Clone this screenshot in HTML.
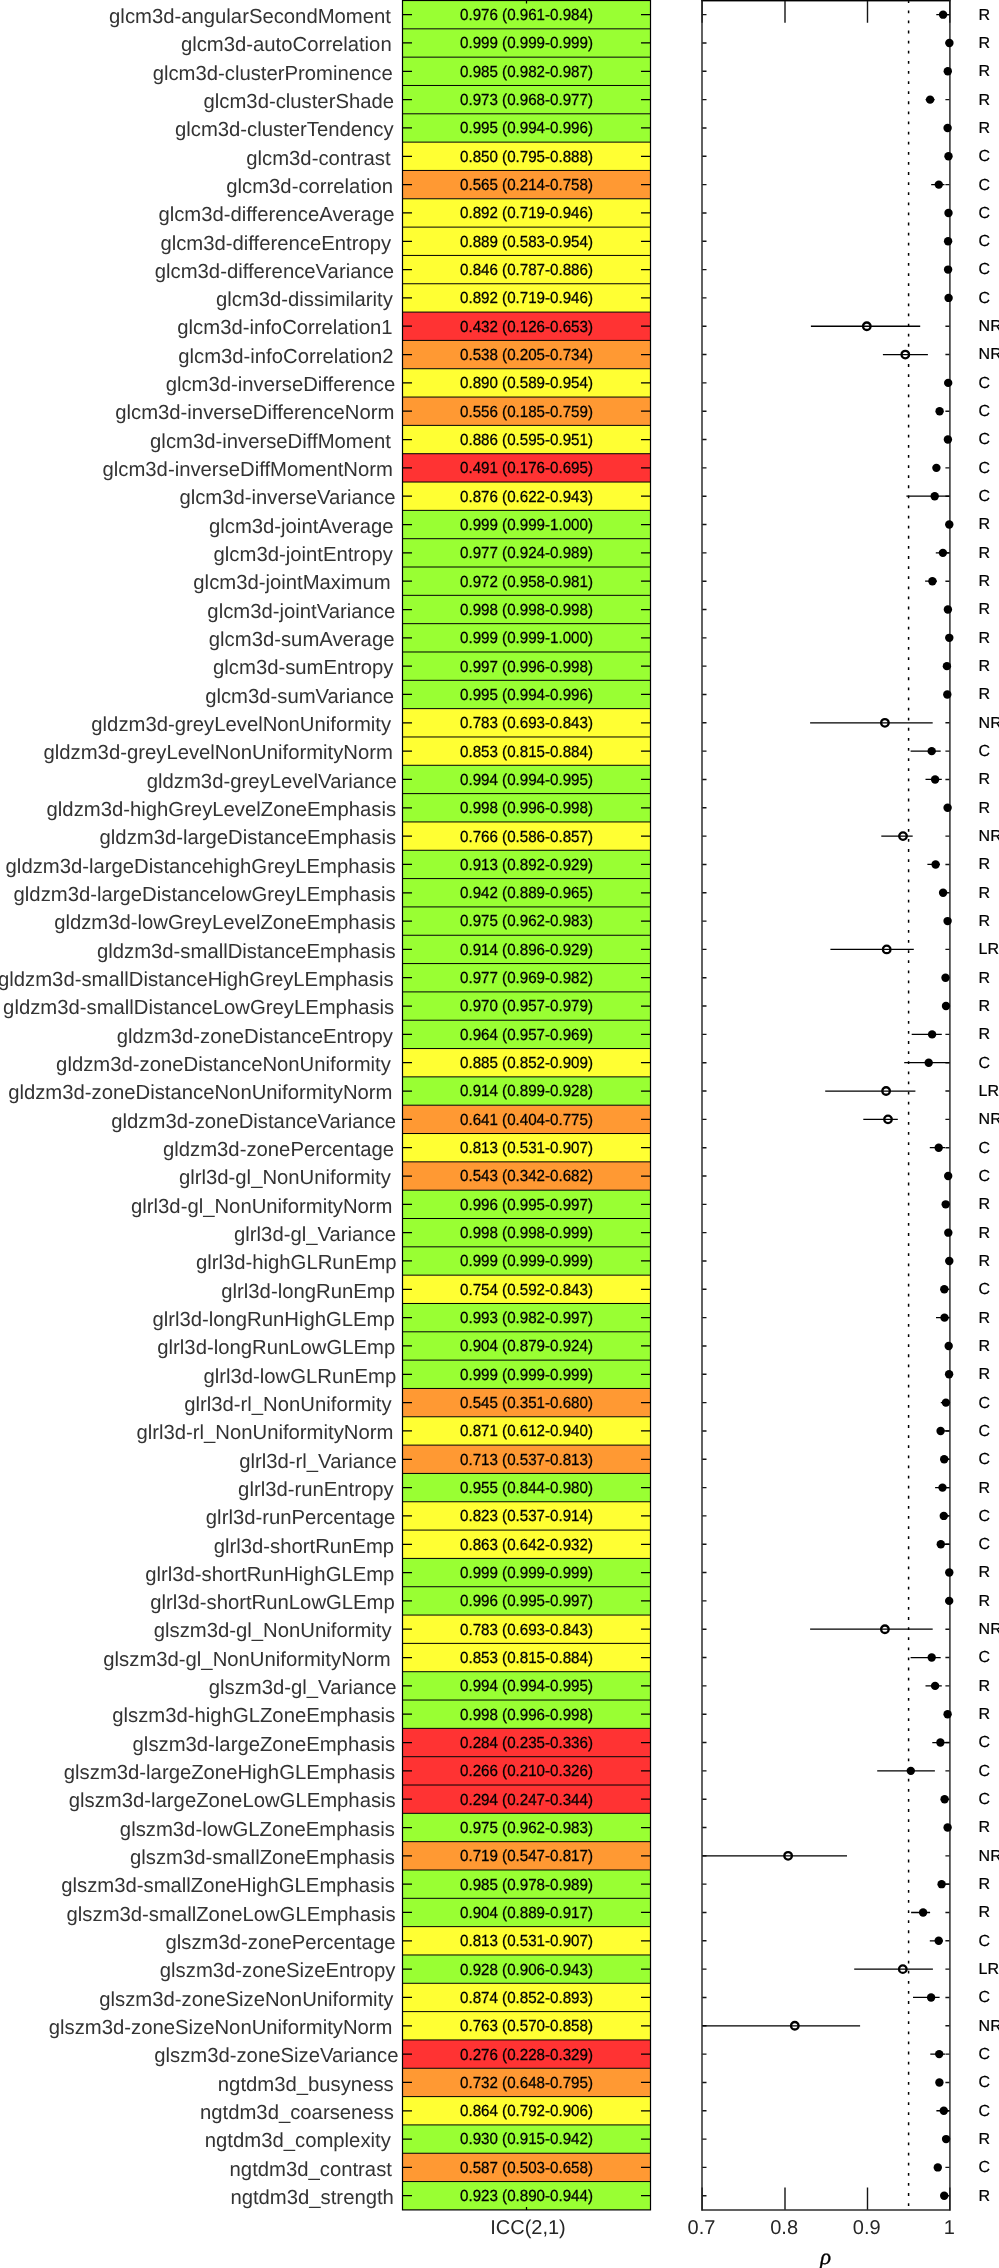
<!DOCTYPE html><html><head><meta charset="utf-8"><style>
html,body{margin:0;padding:0;background:#fff;width:999px;height:2268px;overflow:hidden}
svg{display:block;will-change:transform}
text{font-family:"Liberation Sans",sans-serif;text-rendering:geometricPrecision}
.lb{font-size:20.3px;fill:#333;text-anchor:end}
.vl{font-size:15.15px;fill:#000;stroke:#000;stroke-width:0.25px;text-anchor:middle}
.rl{font-size:16px;fill:#000;stroke:#000;stroke-width:0.2px}
.ax{font-size:20px;fill:#262626;text-anchor:middle}
</style></head><body>
<svg width="999" height="2268" viewBox="0 0 999 2268">
<rect x="402.50" y="0.50" width="248.00" height="28.33" fill="#99ff33"/>
<rect x="402.50" y="28.83" width="248.00" height="28.33" fill="#99ff33"/>
<rect x="402.50" y="57.15" width="248.00" height="28.33" fill="#99ff33"/>
<rect x="402.50" y="85.48" width="248.00" height="28.33" fill="#99ff33"/>
<rect x="402.50" y="113.80" width="248.00" height="28.33" fill="#99ff33"/>
<rect x="402.50" y="142.13" width="248.00" height="28.33" fill="#ffff33"/>
<rect x="402.50" y="170.45" width="248.00" height="28.33" fill="#ff9933"/>
<rect x="402.50" y="198.78" width="248.00" height="28.33" fill="#ffff33"/>
<rect x="402.50" y="227.11" width="248.00" height="28.33" fill="#ffff33"/>
<rect x="402.50" y="255.43" width="248.00" height="28.33" fill="#ffff33"/>
<rect x="402.50" y="283.76" width="248.00" height="28.33" fill="#ffff33"/>
<rect x="402.50" y="312.08" width="248.00" height="28.33" fill="#ff3333"/>
<rect x="402.50" y="340.41" width="248.00" height="28.33" fill="#ff9933"/>
<rect x="402.50" y="368.73" width="248.00" height="28.33" fill="#ffff33"/>
<rect x="402.50" y="397.06" width="248.00" height="28.33" fill="#ff9933"/>
<rect x="402.50" y="425.38" width="248.00" height="28.33" fill="#ffff33"/>
<rect x="402.50" y="453.71" width="248.00" height="28.33" fill="#ff3333"/>
<rect x="402.50" y="482.04" width="248.00" height="28.33" fill="#ffff33"/>
<rect x="402.50" y="510.36" width="248.00" height="28.33" fill="#99ff33"/>
<rect x="402.50" y="538.69" width="248.00" height="28.33" fill="#99ff33"/>
<rect x="402.50" y="567.01" width="248.00" height="28.33" fill="#99ff33"/>
<rect x="402.50" y="595.34" width="248.00" height="28.33" fill="#99ff33"/>
<rect x="402.50" y="623.66" width="248.00" height="28.33" fill="#99ff33"/>
<rect x="402.50" y="651.99" width="248.00" height="28.33" fill="#99ff33"/>
<rect x="402.50" y="680.32" width="248.00" height="28.33" fill="#99ff33"/>
<rect x="402.50" y="708.64" width="248.00" height="28.33" fill="#ffff33"/>
<rect x="402.50" y="736.97" width="248.00" height="28.33" fill="#ffff33"/>
<rect x="402.50" y="765.29" width="248.00" height="28.33" fill="#99ff33"/>
<rect x="402.50" y="793.62" width="248.00" height="28.33" fill="#99ff33"/>
<rect x="402.50" y="821.94" width="248.00" height="28.33" fill="#ffff33"/>
<rect x="402.50" y="850.27" width="248.00" height="28.33" fill="#99ff33"/>
<rect x="402.50" y="878.59" width="248.00" height="28.33" fill="#99ff33"/>
<rect x="402.50" y="906.92" width="248.00" height="28.33" fill="#99ff33"/>
<rect x="402.50" y="935.25" width="248.00" height="28.33" fill="#99ff33"/>
<rect x="402.50" y="963.57" width="248.00" height="28.33" fill="#99ff33"/>
<rect x="402.50" y="991.90" width="248.00" height="28.33" fill="#99ff33"/>
<rect x="402.50" y="1020.22" width="248.00" height="28.33" fill="#99ff33"/>
<rect x="402.50" y="1048.55" width="248.00" height="28.33" fill="#ffff33"/>
<rect x="402.50" y="1076.87" width="248.00" height="28.33" fill="#99ff33"/>
<rect x="402.50" y="1105.20" width="248.00" height="28.33" fill="#ff9933"/>
<rect x="402.50" y="1133.53" width="248.00" height="28.33" fill="#ffff33"/>
<rect x="402.50" y="1161.85" width="248.00" height="28.33" fill="#ff9933"/>
<rect x="402.50" y="1190.18" width="248.00" height="28.33" fill="#99ff33"/>
<rect x="402.50" y="1218.50" width="248.00" height="28.33" fill="#99ff33"/>
<rect x="402.50" y="1246.83" width="248.00" height="28.33" fill="#99ff33"/>
<rect x="402.50" y="1275.15" width="248.00" height="28.33" fill="#ffff33"/>
<rect x="402.50" y="1303.48" width="248.00" height="28.33" fill="#99ff33"/>
<rect x="402.50" y="1331.81" width="248.00" height="28.33" fill="#99ff33"/>
<rect x="402.50" y="1360.13" width="248.00" height="28.33" fill="#99ff33"/>
<rect x="402.50" y="1388.46" width="248.00" height="28.33" fill="#ff9933"/>
<rect x="402.50" y="1416.78" width="248.00" height="28.33" fill="#ffff33"/>
<rect x="402.50" y="1445.11" width="248.00" height="28.33" fill="#ff9933"/>
<rect x="402.50" y="1473.43" width="248.00" height="28.33" fill="#99ff33"/>
<rect x="402.50" y="1501.76" width="248.00" height="28.33" fill="#ffff33"/>
<rect x="402.50" y="1530.08" width="248.00" height="28.33" fill="#ffff33"/>
<rect x="402.50" y="1558.41" width="248.00" height="28.33" fill="#99ff33"/>
<rect x="402.50" y="1586.74" width="248.00" height="28.33" fill="#99ff33"/>
<rect x="402.50" y="1615.06" width="248.00" height="28.33" fill="#ffff33"/>
<rect x="402.50" y="1643.39" width="248.00" height="28.33" fill="#ffff33"/>
<rect x="402.50" y="1671.71" width="248.00" height="28.33" fill="#99ff33"/>
<rect x="402.50" y="1700.04" width="248.00" height="28.33" fill="#99ff33"/>
<rect x="402.50" y="1728.36" width="248.00" height="28.33" fill="#ff3333"/>
<rect x="402.50" y="1756.69" width="248.00" height="28.33" fill="#ff3333"/>
<rect x="402.50" y="1785.02" width="248.00" height="28.33" fill="#ff3333"/>
<rect x="402.50" y="1813.34" width="248.00" height="28.33" fill="#99ff33"/>
<rect x="402.50" y="1841.67" width="248.00" height="28.33" fill="#ff9933"/>
<rect x="402.50" y="1869.99" width="248.00" height="28.33" fill="#99ff33"/>
<rect x="402.50" y="1898.32" width="248.00" height="28.33" fill="#99ff33"/>
<rect x="402.50" y="1926.64" width="248.00" height="28.33" fill="#ffff33"/>
<rect x="402.50" y="1954.97" width="248.00" height="28.33" fill="#99ff33"/>
<rect x="402.50" y="1983.29" width="248.00" height="28.33" fill="#ffff33"/>
<rect x="402.50" y="2011.62" width="248.00" height="28.33" fill="#ffff33"/>
<rect x="402.50" y="2039.95" width="248.00" height="28.33" fill="#ff3333"/>
<rect x="402.50" y="2068.27" width="248.00" height="28.33" fill="#ff9933"/>
<rect x="402.50" y="2096.60" width="248.00" height="28.33" fill="#ffff33"/>
<rect x="402.50" y="2124.92" width="248.00" height="28.33" fill="#99ff33"/>
<rect x="402.50" y="2153.25" width="248.00" height="28.33" fill="#ff9933"/>
<rect x="402.50" y="2181.57" width="248.00" height="28.33" fill="#99ff33"/>
<path d="M402.50 28.83H650.50M402.50 57.15H650.50M402.50 85.48H650.50M402.50 113.80H650.50M402.50 142.13H650.50M402.50 170.45H650.50M402.50 198.78H650.50M402.50 227.11H650.50M402.50 255.43H650.50M402.50 283.76H650.50M402.50 312.08H650.50M402.50 340.41H650.50M402.50 368.73H650.50M402.50 397.06H650.50M402.50 425.38H650.50M402.50 453.71H650.50M402.50 482.04H650.50M402.50 510.36H650.50M402.50 538.69H650.50M402.50 567.01H650.50M402.50 595.34H650.50M402.50 623.66H650.50M402.50 651.99H650.50M402.50 680.32H650.50M402.50 708.64H650.50M402.50 736.97H650.50M402.50 765.29H650.50M402.50 793.62H650.50M402.50 821.94H650.50M402.50 850.27H650.50M402.50 878.59H650.50M402.50 906.92H650.50M402.50 935.25H650.50M402.50 963.57H650.50M402.50 991.90H650.50M402.50 1020.22H650.50M402.50 1048.55H650.50M402.50 1076.87H650.50M402.50 1105.20H650.50M402.50 1133.53H650.50M402.50 1161.85H650.50M402.50 1190.18H650.50M402.50 1218.50H650.50M402.50 1246.83H650.50M402.50 1275.15H650.50M402.50 1303.48H650.50M402.50 1331.81H650.50M402.50 1360.13H650.50M402.50 1388.46H650.50M402.50 1416.78H650.50M402.50 1445.11H650.50M402.50 1473.43H650.50M402.50 1501.76H650.50M402.50 1530.08H650.50M402.50 1558.41H650.50M402.50 1586.74H650.50M402.50 1615.06H650.50M402.50 1643.39H650.50M402.50 1671.71H650.50M402.50 1700.04H650.50M402.50 1728.36H650.50M402.50 1756.69H650.50M402.50 1785.02H650.50M402.50 1813.34H650.50M402.50 1841.67H650.50M402.50 1869.99H650.50M402.50 1898.32H650.50M402.50 1926.64H650.50M402.50 1954.97H650.50M402.50 1983.29H650.50M402.50 2011.62H650.50M402.50 2039.95H650.50M402.50 2068.27H650.50M402.50 2096.60H650.50M402.50 2124.92H650.50M402.50 2153.25H650.50M402.50 2181.57H650.50" stroke="#000" stroke-width="1" fill="none"/>
<path d="M402.50 14.66H412.00M641.00 14.66H650.50M402.50 42.99H412.00M641.00 42.99H650.50M402.50 71.31H412.00M641.00 71.31H650.50M402.50 99.64H412.00M641.00 99.64H650.50M402.50 127.97H412.00M641.00 127.97H650.50M402.50 156.29H412.00M641.00 156.29H650.50M402.50 184.62H412.00M641.00 184.62H650.50M402.50 212.94H412.00M641.00 212.94H650.50M402.50 241.27H412.00M641.00 241.27H650.50M402.50 269.59H412.00M641.00 269.59H650.50M402.50 297.92H412.00M641.00 297.92H650.50M402.50 326.24H412.00M641.00 326.24H650.50M402.50 354.57H412.00M641.00 354.57H650.50M402.50 382.90H412.00M641.00 382.90H650.50M402.50 411.22H412.00M641.00 411.22H650.50M402.50 439.55H412.00M641.00 439.55H650.50M402.50 467.87H412.00M641.00 467.87H650.50M402.50 496.20H412.00M641.00 496.20H650.50M402.50 524.52H412.00M641.00 524.52H650.50M402.50 552.85H412.00M641.00 552.85H650.50M402.50 581.18H412.00M641.00 581.18H650.50M402.50 609.50H412.00M641.00 609.50H650.50M402.50 637.83H412.00M641.00 637.83H650.50M402.50 666.15H412.00M641.00 666.15H650.50M402.50 694.48H412.00M641.00 694.48H650.50M402.50 722.80H412.00M641.00 722.80H650.50M402.50 751.13H412.00M641.00 751.13H650.50M402.50 779.46H412.00M641.00 779.46H650.50M402.50 807.78H412.00M641.00 807.78H650.50M402.50 836.11H412.00M641.00 836.11H650.50M402.50 864.43H412.00M641.00 864.43H650.50M402.50 892.76H412.00M641.00 892.76H650.50M402.50 921.08H412.00M641.00 921.08H650.50M402.50 949.41H412.00M641.00 949.41H650.50M402.50 977.73H412.00M641.00 977.73H650.50M402.50 1006.06H412.00M641.00 1006.06H650.50M402.50 1034.39H412.00M641.00 1034.39H650.50M402.50 1062.71H412.00M641.00 1062.71H650.50M402.50 1091.04H412.00M641.00 1091.04H650.50M402.50 1119.36H412.00M641.00 1119.36H650.50M402.50 1147.69H412.00M641.00 1147.69H650.50M402.50 1176.01H412.00M641.00 1176.01H650.50M402.50 1204.34H412.00M641.00 1204.34H650.50M402.50 1232.67H412.00M641.00 1232.67H650.50M402.50 1260.99H412.00M641.00 1260.99H650.50M402.50 1289.32H412.00M641.00 1289.32H650.50M402.50 1317.64H412.00M641.00 1317.64H650.50M402.50 1345.97H412.00M641.00 1345.97H650.50M402.50 1374.29H412.00M641.00 1374.29H650.50M402.50 1402.62H412.00M641.00 1402.62H650.50M402.50 1430.94H412.00M641.00 1430.94H650.50M402.50 1459.27H412.00M641.00 1459.27H650.50M402.50 1487.60H412.00M641.00 1487.60H650.50M402.50 1515.92H412.00M641.00 1515.92H650.50M402.50 1544.25H412.00M641.00 1544.25H650.50M402.50 1572.57H412.00M641.00 1572.57H650.50M402.50 1600.90H412.00M641.00 1600.90H650.50M402.50 1629.22H412.00M641.00 1629.22H650.50M402.50 1657.55H412.00M641.00 1657.55H650.50M402.50 1685.88H412.00M641.00 1685.88H650.50M402.50 1714.20H412.00M641.00 1714.20H650.50M402.50 1742.53H412.00M641.00 1742.53H650.50M402.50 1770.85H412.00M641.00 1770.85H650.50M402.50 1799.18H412.00M641.00 1799.18H650.50M402.50 1827.50H412.00M641.00 1827.50H650.50M402.50 1855.83H412.00M641.00 1855.83H650.50M402.50 1884.16H412.00M641.00 1884.16H650.50M402.50 1912.48H412.00M641.00 1912.48H650.50M402.50 1940.81H412.00M641.00 1940.81H650.50M402.50 1969.13H412.00M641.00 1969.13H650.50M402.50 1997.46H412.00M641.00 1997.46H650.50M402.50 2025.78H412.00M641.00 2025.78H650.50M402.50 2054.11H412.00M641.00 2054.11H650.50M402.50 2082.43H412.00M641.00 2082.43H650.50M402.50 2110.76H412.00M641.00 2110.76H650.50M402.50 2139.09H412.00M641.00 2139.09H650.50M402.50 2167.41H412.00M641.00 2167.41H650.50M402.50 2195.74H412.00M641.00 2195.74H650.50M526.5 0.50V3.50M526.5 2209.90V2206.90" stroke="#000" stroke-width="1.25" fill="none"/>
<rect x="402.50" y="0.50" width="248.00" height="2209.40" fill="none" stroke="#000" stroke-width="1.2"/>
<text class="lb" x="390.94" y="22.91">glcm3d-angularSecondMoment</text>
<text class="vl" transform="translate(526.5 20.06) scale(1 1.06)">0.976 (0.961-0.984)</text>
<text class="rl" x="978.6" y="19.56">R</text>
<text class="lb" x="391.70" y="51.24">glcm3d-autoCorrelation</text>
<text class="vl" transform="translate(526.5 48.39) scale(1 1.06)">0.999 (0.999-0.999)</text>
<text class="rl" x="978.6" y="47.89">R</text>
<text class="lb" x="392.74" y="79.56">glcm3d-clusterProminence</text>
<text class="vl" transform="translate(526.5 76.71) scale(1 1.06)">0.985 (0.982-0.987)</text>
<text class="rl" x="978.6" y="76.21">R</text>
<text class="lb" x="394.06" y="107.89">glcm3d-clusterShade</text>
<text class="vl" transform="translate(526.5 105.04) scale(1 1.06)">0.973 (0.968-0.977)</text>
<text class="rl" x="978.6" y="104.54">R</text>
<text class="lb" x="393.65" y="136.22">glcm3d-clusterTendency</text>
<text class="vl" transform="translate(526.5 133.37) scale(1 1.06)">0.995 (0.994-0.996)</text>
<text class="rl" x="978.6" y="132.87">R</text>
<text class="lb" x="390.54" y="164.54">glcm3d-contrast</text>
<text class="vl" transform="translate(526.5 161.69) scale(1 1.06)">0.850 (0.795-0.888)</text>
<text class="rl" x="978.6" y="161.19">C</text>
<text class="lb" x="393.10" y="192.87">glcm3d-correlation</text>
<text class="vl" transform="translate(526.5 190.02) scale(1 1.06)">0.565 (0.214-0.758)</text>
<text class="rl" x="978.6" y="189.52">C</text>
<text class="lb" x="394.46" y="221.19">glcm3d-differenceAverage</text>
<text class="vl" transform="translate(526.5 218.34) scale(1 1.06)">0.892 (0.719-0.946)</text>
<text class="rl" x="978.6" y="217.84">C</text>
<text class="lb" x="391.16" y="249.52">glcm3d-differenceEntropy</text>
<text class="vl" transform="translate(526.5 246.67) scale(1 1.06)">0.889 (0.583-0.954)</text>
<text class="rl" x="978.6" y="246.17">C</text>
<text class="lb" x="394.14" y="277.84">glcm3d-differenceVariance</text>
<text class="vl" transform="translate(526.5 274.99) scale(1 1.06)">0.846 (0.787-0.886)</text>
<text class="rl" x="978.6" y="274.49">C</text>
<text class="lb" x="392.90" y="306.17">glcm3d-dissimilarity</text>
<text class="vl" transform="translate(526.5 303.32) scale(1 1.06)">0.892 (0.719-0.946)</text>
<text class="rl" x="978.6" y="302.82">C</text>
<text class="lb" x="392.64" y="334.49">glcm3d-infoCorrelation1</text>
<text class="vl" transform="translate(526.5 331.64) scale(1 1.06)">0.432 (0.126-0.653)</text>
<text class="rl" x="978.6" y="331.14">NR</text>
<text class="lb" x="393.52" y="362.82">glcm3d-infoCorrelation2</text>
<text class="vl" transform="translate(526.5 359.97) scale(1 1.06)">0.538 (0.205-0.734)</text>
<text class="rl" x="978.6" y="359.47">NR</text>
<text class="lb" x="395.26" y="391.15">glcm3d-inverseDifference</text>
<text class="vl" transform="translate(526.5 388.30) scale(1 1.06)">0.890 (0.589-0.954)</text>
<text class="rl" x="978.6" y="387.80">C</text>
<text class="lb" x="394.38" y="419.47">glcm3d-inverseDifferenceNorm</text>
<text class="vl" transform="translate(526.5 416.62) scale(1 1.06)">0.556 (0.185-0.759)</text>
<text class="rl" x="978.6" y="416.12">C</text>
<text class="lb" x="390.94" y="447.80">glcm3d-inverseDiffMoment</text>
<text class="vl" transform="translate(526.5 444.95) scale(1 1.06)">0.886 (0.595-0.951)</text>
<text class="rl" x="978.6" y="444.45">C</text>
<text class="lb" x="392.93" y="476.12">glcm3d-inverseDiffMomentNorm</text>
<text class="vl" transform="translate(526.5 473.27) scale(1 1.06)">0.491 (0.176-0.695)</text>
<text class="rl" x="978.6" y="472.77">C</text>
<text class="lb" x="395.47" y="504.45">glcm3d-inverseVariance</text>
<text class="vl" transform="translate(526.5 501.60) scale(1 1.06)">0.876 (0.622-0.943)</text>
<text class="rl" x="978.6" y="501.10">C</text>
<text class="lb" x="393.47" y="532.77">glcm3d-jointAverage</text>
<text class="vl" transform="translate(526.5 529.92) scale(1 1.06)">0.999 (0.999-1.000)</text>
<text class="rl" x="978.6" y="529.42">R</text>
<text class="lb" x="392.82" y="561.10">glcm3d-jointEntropy</text>
<text class="vl" transform="translate(526.5 558.25) scale(1 1.06)">0.977 (0.924-0.989)</text>
<text class="rl" x="978.6" y="557.75">R</text>
<text class="lb" x="390.58" y="589.43">glcm3d-jointMaximum</text>
<text class="vl" transform="translate(526.5 586.58) scale(1 1.06)">0.972 (0.958-0.981)</text>
<text class="rl" x="978.6" y="586.08">R</text>
<text class="lb" x="395.26" y="617.75">glcm3d-jointVariance</text>
<text class="vl" transform="translate(526.5 614.90) scale(1 1.06)">0.998 (0.998-0.998)</text>
<text class="rl" x="978.6" y="614.40">R</text>
<text class="lb" x="394.46" y="646.08">glcm3d-sumAverage</text>
<text class="vl" transform="translate(526.5 643.23) scale(1 1.06)">0.999 (0.999-1.000)</text>
<text class="rl" x="978.6" y="642.73">R</text>
<text class="lb" x="393.42" y="674.40">glcm3d-sumEntropy</text>
<text class="vl" transform="translate(526.5 671.55) scale(1 1.06)">0.997 (0.996-0.998)</text>
<text class="rl" x="978.6" y="671.05">R</text>
<text class="lb" x="394.14" y="702.73">glcm3d-sumVariance</text>
<text class="vl" transform="translate(526.5 699.88) scale(1 1.06)">0.995 (0.994-0.996)</text>
<text class="rl" x="978.6" y="699.38">R</text>
<text class="lb" x="391.16" y="731.05">gldzm3d-greyLevelNonUniformity</text>
<text class="vl" transform="translate(526.5 728.20) scale(1 1.06)">0.783 (0.693-0.843)</text>
<text class="rl" x="978.6" y="727.70">NR</text>
<text class="lb" x="392.93" y="759.38">gldzm3d-greyLevelNonUniformityNorm</text>
<text class="vl" transform="translate(526.5 756.53) scale(1 1.06)">0.853 (0.815-0.884)</text>
<text class="rl" x="978.6" y="756.03">C</text>
<text class="lb" x="396.67" y="787.71">gldzm3d-greyLevelVariance</text>
<text class="vl" transform="translate(526.5 784.86) scale(1 1.06)">0.994 (0.994-0.995)</text>
<text class="rl" x="978.6" y="784.36">R</text>
<text class="lb" x="396.06" y="816.03">gldzm3d-highGreyLevelZoneEmphasis</text>
<text class="vl" transform="translate(526.5 813.18) scale(1 1.06)">0.998 (0.996-0.998)</text>
<text class="rl" x="978.6" y="812.68">R</text>
<text class="lb" x="396.06" y="844.36">gldzm3d-largeDistanceEmphasis</text>
<text class="vl" transform="translate(526.5 841.51) scale(1 1.06)">0.766 (0.586-0.857)</text>
<text class="rl" x="978.6" y="841.01">NR</text>
<text class="lb" x="395.65" y="872.68">gldzm3d-largeDistancehighGreyLEmphasis</text>
<text class="vl" transform="translate(526.5 869.83) scale(1 1.06)">0.913 (0.892-0.929)</text>
<text class="rl" x="978.6" y="869.33">R</text>
<text class="lb" x="395.72" y="901.01">gldzm3d-largeDistancelowGreyLEmphasis</text>
<text class="vl" transform="translate(526.5 898.16) scale(1 1.06)">0.942 (0.889-0.965)</text>
<text class="rl" x="978.6" y="897.66">R</text>
<text class="lb" x="395.72" y="929.33">gldzm3d-lowGreyLevelZoneEmphasis</text>
<text class="vl" transform="translate(526.5 926.48) scale(1 1.06)">0.975 (0.962-0.983)</text>
<text class="rl" x="978.6" y="925.98">R</text>
<text class="lb" x="395.65" y="957.66">gldzm3d-smallDistanceEmphasis</text>
<text class="vl" transform="translate(526.5 954.81) scale(1 1.06)">0.914 (0.896-0.929)</text>
<text class="rl" x="978.6" y="954.31">LR</text>
<text class="lb" x="393.65" y="985.98">gldzm3d-smallDistanceHighGreyLEmphasis</text>
<text class="vl" transform="translate(526.5 983.13) scale(1 1.06)">0.977 (0.969-0.982)</text>
<text class="rl" x="978.6" y="982.63">R</text>
<text class="lb" x="394.26" y="1014.31">gldzm3d-smallDistanceLowGreyLEmphasis</text>
<text class="vl" transform="translate(526.5 1011.46) scale(1 1.06)">0.970 (0.957-0.979)</text>
<text class="rl" x="978.6" y="1010.96">R</text>
<text class="lb" x="392.90" y="1042.64">gldzm3d-zoneDistanceEntropy</text>
<text class="vl" transform="translate(526.5 1039.79) scale(1 1.06)">0.964 (0.957-0.969)</text>
<text class="rl" x="978.6" y="1039.29">R</text>
<text class="lb" x="390.90" y="1070.96">gldzm3d-zoneDistanceNonUniformity</text>
<text class="vl" transform="translate(526.5 1068.11) scale(1 1.06)">0.885 (0.852-0.909)</text>
<text class="rl" x="978.6" y="1067.61">C</text>
<text class="lb" x="392.52" y="1099.29">gldzm3d-zoneDistanceNonUniformityNorm</text>
<text class="vl" transform="translate(526.5 1096.44) scale(1 1.06)">0.914 (0.899-0.928)</text>
<text class="rl" x="978.6" y="1095.94">LR</text>
<text class="lb" x="396.14" y="1127.61">gldzm3d-zoneDistanceVariance</text>
<text class="vl" transform="translate(526.5 1124.76) scale(1 1.06)">0.641 (0.404-0.775)</text>
<text class="rl" x="978.6" y="1124.26">NR</text>
<text class="lb" x="394.14" y="1155.94">gldzm3d-zonePercentage</text>
<text class="vl" transform="translate(526.5 1153.09) scale(1 1.06)">0.813 (0.531-0.907)</text>
<text class="rl" x="978.6" y="1152.59">C</text>
<text class="lb" x="390.90" y="1184.26">glrl3d-gl_NonUniformity</text>
<text class="vl" transform="translate(526.5 1181.41) scale(1 1.06)">0.543 (0.342-0.682)</text>
<text class="rl" x="978.6" y="1180.91">C</text>
<text class="lb" x="392.52" y="1212.59">glrl3d-gl_NonUniformityNorm</text>
<text class="vl" transform="translate(526.5 1209.74) scale(1 1.06)">0.996 (0.995-0.997)</text>
<text class="rl" x="978.6" y="1209.24">R</text>
<text class="lb" x="396.06" y="1240.92">glrl3d-gl_Variance</text>
<text class="vl" transform="translate(526.5 1238.07) scale(1 1.06)">0.998 (0.998-0.999)</text>
<text class="rl" x="978.6" y="1237.57">R</text>
<text class="lb" x="396.60" y="1269.24">glrl3d-highGLRunEmp</text>
<text class="vl" transform="translate(526.5 1266.39) scale(1 1.06)">0.999 (0.999-0.999)</text>
<text class="rl" x="978.6" y="1265.89">R</text>
<text class="lb" x="394.92" y="1297.57">glrl3d-longRunEmp</text>
<text class="vl" transform="translate(526.5 1294.72) scale(1 1.06)">0.754 (0.592-0.843)</text>
<text class="rl" x="978.6" y="1294.22">C</text>
<text class="lb" x="394.80" y="1325.89">glrl3d-longRunHighGLEmp</text>
<text class="vl" transform="translate(526.5 1323.04) scale(1 1.06)">0.993 (0.982-0.997)</text>
<text class="rl" x="978.6" y="1322.54">R</text>
<text class="lb" x="395.20" y="1354.22">glrl3d-longRunLowGLEmp</text>
<text class="vl" transform="translate(526.5 1351.37) scale(1 1.06)">0.904 (0.879-0.924)</text>
<text class="rl" x="978.6" y="1350.87">R</text>
<text class="lb" x="396.20" y="1382.54">glrl3d-lowGLRunEmp</text>
<text class="vl" transform="translate(526.5 1379.69) scale(1 1.06)">0.999 (0.999-0.999)</text>
<text class="rl" x="978.6" y="1379.19">R</text>
<text class="lb" x="391.62" y="1410.87">glrl3d-rl_NonUniformity</text>
<text class="vl" transform="translate(526.5 1408.02) scale(1 1.06)">0.545 (0.351-0.680)</text>
<text class="rl" x="978.6" y="1407.52">C</text>
<text class="lb" x="393.38" y="1439.19">glrl3d-rl_NonUniformityNorm</text>
<text class="vl" transform="translate(526.5 1436.34) scale(1 1.06)">0.871 (0.612-0.940)</text>
<text class="rl" x="978.6" y="1435.84">C</text>
<text class="lb" x="396.67" y="1467.52">glrl3d-rl_Variance</text>
<text class="vl" transform="translate(526.5 1464.67) scale(1 1.06)">0.713 (0.537-0.813)</text>
<text class="rl" x="978.6" y="1464.17">C</text>
<text class="lb" x="393.70" y="1495.85">glrl3d-runEntropy</text>
<text class="vl" transform="translate(526.5 1493.00) scale(1 1.06)">0.955 (0.844-0.980)</text>
<text class="rl" x="978.6" y="1492.50">R</text>
<text class="lb" x="395.26" y="1524.17">glrl3d-runPercentage</text>
<text class="vl" transform="translate(526.5 1521.32) scale(1 1.06)">0.823 (0.537-0.914)</text>
<text class="rl" x="978.6" y="1520.82">C</text>
<text class="lb" x="394.12" y="1552.50">glrl3d-shortRunEmp</text>
<text class="vl" transform="translate(526.5 1549.65) scale(1 1.06)">0.863 (0.642-0.932)</text>
<text class="rl" x="978.6" y="1549.15">C</text>
<text class="lb" x="394.40" y="1580.82">glrl3d-shortRunHighGLEmp</text>
<text class="vl" transform="translate(526.5 1577.97) scale(1 1.06)">0.999 (0.999-0.999)</text>
<text class="rl" x="978.6" y="1577.47">R</text>
<text class="lb" x="394.80" y="1609.15">glrl3d-shortRunLowGLEmp</text>
<text class="vl" transform="translate(526.5 1606.30) scale(1 1.06)">0.996 (0.995-0.997)</text>
<text class="rl" x="978.6" y="1605.80">R</text>
<text class="lb" x="391.62" y="1637.47">glszm3d-gl_NonUniformity</text>
<text class="vl" transform="translate(526.5 1634.62) scale(1 1.06)">0.783 (0.693-0.843)</text>
<text class="rl" x="978.6" y="1634.12">NR</text>
<text class="lb" x="390.73" y="1665.80">glszm3d-gl_NonUniformityNorm</text>
<text class="vl" transform="translate(526.5 1662.95) scale(1 1.06)">0.853 (0.815-0.884)</text>
<text class="rl" x="978.6" y="1662.45">C</text>
<text class="lb" x="396.67" y="1694.13">glszm3d-gl_Variance</text>
<text class="vl" transform="translate(526.5 1691.28) scale(1 1.06)">0.994 (0.994-0.995)</text>
<text class="rl" x="978.6" y="1690.78">R</text>
<text class="lb" x="395.26" y="1722.45">glszm3d-highGLZoneEmphasis</text>
<text class="vl" transform="translate(526.5 1719.60) scale(1 1.06)">0.998 (0.996-0.998)</text>
<text class="rl" x="978.6" y="1719.10">R</text>
<text class="lb" x="395.26" y="1750.78">glszm3d-largeZoneEmphasis</text>
<text class="vl" transform="translate(526.5 1747.93) scale(1 1.06)">0.284 (0.235-0.336)</text>
<text class="rl" x="978.6" y="1747.43">C</text>
<text class="lb" x="395.26" y="1779.10">glszm3d-largeZoneHighGLEmphasis</text>
<text class="vl" transform="translate(526.5 1776.25) scale(1 1.06)">0.266 (0.210-0.326)</text>
<text class="rl" x="978.6" y="1775.75">C</text>
<text class="lb" x="395.72" y="1807.43">glszm3d-largeZoneLowGLEmphasis</text>
<text class="vl" transform="translate(526.5 1804.58) scale(1 1.06)">0.294 (0.247-0.344)</text>
<text class="rl" x="978.6" y="1804.08">C</text>
<text class="lb" x="394.92" y="1835.75">glszm3d-lowGLZoneEmphasis</text>
<text class="vl" transform="translate(526.5 1832.90) scale(1 1.06)">0.975 (0.962-0.983)</text>
<text class="rl" x="978.6" y="1832.40">R</text>
<text class="lb" x="394.92" y="1864.08">glszm3d-smallZoneEmphasis</text>
<text class="vl" transform="translate(526.5 1861.23) scale(1 1.06)">0.719 (0.547-0.817)</text>
<text class="rl" x="978.6" y="1860.73">NR</text>
<text class="lb" x="394.92" y="1892.41">glszm3d-smallZoneHighGLEmphasis</text>
<text class="vl" transform="translate(526.5 1889.56) scale(1 1.06)">0.985 (0.978-0.989)</text>
<text class="rl" x="978.6" y="1889.06">R</text>
<text class="lb" x="395.72" y="1920.73">glszm3d-smallZoneLowGLEmphasis</text>
<text class="vl" transform="translate(526.5 1917.88) scale(1 1.06)">0.904 (0.889-0.917)</text>
<text class="rl" x="978.6" y="1917.38">R</text>
<text class="lb" x="395.47" y="1949.06">glszm3d-zonePercentage</text>
<text class="vl" transform="translate(526.5 1946.21) scale(1 1.06)">0.813 (0.531-0.907)</text>
<text class="rl" x="978.6" y="1945.71">C</text>
<text class="lb" x="395.45" y="1977.38">glszm3d-zoneSizeEntropy</text>
<text class="vl" transform="translate(526.5 1974.53) scale(1 1.06)">0.928 (0.906-0.943)</text>
<text class="rl" x="978.6" y="1974.03">LR</text>
<text class="lb" x="393.42" y="2005.71">glszm3d-zoneSizeNonUniformity</text>
<text class="vl" transform="translate(526.5 2002.86) scale(1 1.06)">0.874 (0.852-0.893)</text>
<text class="rl" x="978.6" y="2002.36">C</text>
<text class="lb" x="392.52" y="2034.03">glszm3d-zoneSizeNonUniformityNorm</text>
<text class="vl" transform="translate(526.5 2031.18) scale(1 1.06)">0.763 (0.570-0.858)</text>
<text class="rl" x="978.6" y="2030.68">NR</text>
<text class="lb" x="398.46" y="2062.36">glszm3d-zoneSizeVariance</text>
<text class="vl" transform="translate(526.5 2059.51) scale(1 1.06)">0.276 (0.228-0.329)</text>
<text class="rl" x="978.6" y="2059.01">C</text>
<text class="lb" x="393.72" y="2090.68">ngtdm3d_busyness</text>
<text class="vl" transform="translate(526.5 2087.83) scale(1 1.06)">0.732 (0.648-0.795)</text>
<text class="rl" x="978.6" y="2087.33">C</text>
<text class="lb" x="393.92" y="2119.01">ngtdm3d_coarseness</text>
<text class="vl" transform="translate(526.5 2116.16) scale(1 1.06)">0.864 (0.792-0.906)</text>
<text class="rl" x="978.6" y="2115.66">C</text>
<text class="lb" x="390.82" y="2147.34">ngtdm3d_complexity</text>
<text class="vl" transform="translate(526.5 2144.49) scale(1 1.06)">0.930 (0.915-0.942)</text>
<text class="rl" x="978.6" y="2143.99">R</text>
<text class="lb" x="391.94" y="2175.66">ngtdm3d_contrast</text>
<text class="vl" transform="translate(526.5 2172.81) scale(1 1.06)">0.587 (0.503-0.658)</text>
<text class="rl" x="978.6" y="2172.31">C</text>
<text class="lb" x="393.90" y="2203.99">ngtdm3d_strength</text>
<text class="vl" transform="translate(526.5 2201.14) scale(1 1.06)">0.923 (0.890-0.944)</text>
<text class="rl" x="978.6" y="2200.64">R</text>
<line x1="908.6" y1="0.3" x2="908.6" y2="2209" stroke="#000" stroke-width="1.5" stroke-dasharray="2.8 7.305"/>
<path d="M702.00 14.66H706.50M945.40 14.66H949.90M702.00 42.99H706.50M945.40 42.99H949.90M702.00 71.31H706.50M945.40 71.31H949.90M702.00 99.64H706.50M945.40 99.64H949.90M702.00 127.97H706.50M945.40 127.97H949.90M702.00 156.29H706.50M945.40 156.29H949.90M702.00 184.62H706.50M945.40 184.62H949.90M702.00 212.94H706.50M945.40 212.94H949.90M702.00 241.27H706.50M945.40 241.27H949.90M702.00 269.59H706.50M945.40 269.59H949.90M702.00 297.92H706.50M945.40 297.92H949.90M702.00 326.24H706.50M945.40 326.24H949.90M702.00 354.57H706.50M945.40 354.57H949.90M702.00 382.90H706.50M945.40 382.90H949.90M702.00 411.22H706.50M945.40 411.22H949.90M702.00 439.55H706.50M945.40 439.55H949.90M702.00 467.87H706.50M945.40 467.87H949.90M702.00 496.20H706.50M945.40 496.20H949.90M702.00 524.52H706.50M945.40 524.52H949.90M702.00 552.85H706.50M945.40 552.85H949.90M702.00 581.18H706.50M945.40 581.18H949.90M702.00 609.50H706.50M945.40 609.50H949.90M702.00 637.83H706.50M945.40 637.83H949.90M702.00 666.15H706.50M945.40 666.15H949.90M702.00 694.48H706.50M945.40 694.48H949.90M702.00 722.80H706.50M945.40 722.80H949.90M702.00 751.13H706.50M945.40 751.13H949.90M702.00 779.46H706.50M945.40 779.46H949.90M702.00 807.78H706.50M945.40 807.78H949.90M702.00 836.11H706.50M945.40 836.11H949.90M702.00 864.43H706.50M945.40 864.43H949.90M702.00 892.76H706.50M945.40 892.76H949.90M702.00 921.08H706.50M945.40 921.08H949.90M702.00 949.41H706.50M945.40 949.41H949.90M702.00 977.73H706.50M945.40 977.73H949.90M702.00 1006.06H706.50M945.40 1006.06H949.90M702.00 1034.39H706.50M945.40 1034.39H949.90M702.00 1062.71H706.50M945.40 1062.71H949.90M702.00 1091.04H706.50M945.40 1091.04H949.90M702.00 1119.36H706.50M945.40 1119.36H949.90M702.00 1147.69H706.50M945.40 1147.69H949.90M702.00 1176.01H706.50M945.40 1176.01H949.90M702.00 1204.34H706.50M945.40 1204.34H949.90M702.00 1232.67H706.50M945.40 1232.67H949.90M702.00 1260.99H706.50M945.40 1260.99H949.90M702.00 1289.32H706.50M945.40 1289.32H949.90M702.00 1317.64H706.50M945.40 1317.64H949.90M702.00 1345.97H706.50M945.40 1345.97H949.90M702.00 1374.29H706.50M945.40 1374.29H949.90M702.00 1402.62H706.50M945.40 1402.62H949.90M702.00 1430.94H706.50M945.40 1430.94H949.90M702.00 1459.27H706.50M945.40 1459.27H949.90M702.00 1487.60H706.50M945.40 1487.60H949.90M702.00 1515.92H706.50M945.40 1515.92H949.90M702.00 1544.25H706.50M945.40 1544.25H949.90M702.00 1572.57H706.50M945.40 1572.57H949.90M702.00 1600.90H706.50M945.40 1600.90H949.90M702.00 1629.22H706.50M945.40 1629.22H949.90M702.00 1657.55H706.50M945.40 1657.55H949.90M702.00 1685.88H706.50M945.40 1685.88H949.90M702.00 1714.20H706.50M945.40 1714.20H949.90M702.00 1742.53H706.50M945.40 1742.53H949.90M702.00 1770.85H706.50M945.40 1770.85H949.90M702.00 1799.18H706.50M945.40 1799.18H949.90M702.00 1827.50H706.50M945.40 1827.50H949.90M702.00 1855.83H706.50M945.40 1855.83H949.90M702.00 1884.16H706.50M945.40 1884.16H949.90M702.00 1912.48H706.50M945.40 1912.48H949.90M702.00 1940.81H706.50M945.40 1940.81H949.90M702.00 1969.13H706.50M945.40 1969.13H949.90M702.00 1997.46H706.50M945.40 1997.46H949.90M702.00 2025.78H706.50M945.40 2025.78H949.90M702.00 2054.11H706.50M945.40 2054.11H949.90M702.00 2082.43H706.50M945.40 2082.43H949.90M702.00 2110.76H706.50M945.40 2110.76H949.90M702.00 2139.09H706.50M945.40 2139.09H949.90M702.00 2167.41H706.50M945.40 2167.41H949.90M702.00 2195.74H706.50M945.40 2195.74H949.90M785.00 0.50V22.80M785.00 2209.90V2187.60M867.50 0.50V22.80M867.50 2209.90V2187.60" stroke="#151515" stroke-width="1.4" fill="none"/>
<rect x="702.00" y="0.50" width="247.90" height="2209.50" fill="none" stroke="#353535" stroke-width="1.55"/>
<path d="M701.30 0.55H950.40" stroke="#000" stroke-width="1.2"/>
<path d="M702.10 0V22.8M702.10 2187.6V2210.6M949.80 0V22.8M949.80 2187.6V2210.6" stroke="#1a1a1a" stroke-width="1.3"/>
<path d="M936.30 14.66H949.50M925.60 99.64H934.60M931.20 184.62H944.50M810.90 326.24H920.20M882.90 354.57H927.90M906.40 496.20H949.50M935.80 552.85H949.50M925.10 581.18H937.00M810.10 722.80H932.70M910.60 751.13H940.70M925.50 779.46H941.80M881.30 836.11H912.70M927.40 864.43H940.00M830.40 949.41H913.80M911.70 1034.39H941.80M904.20 1062.71H949.50M825.20 1091.04H915.40M863.30 1119.36H897.80M929.80 1147.69H945.00M936.00 1317.64H949.50M940.80 1402.62H949.50M940.60 1430.94H949.50M944.20 1459.27H949.50M935.10 1487.60H949.50M943.80 1515.92H949.50M940.80 1544.25H949.50M810.10 1629.22H932.70M910.60 1657.55H940.70M925.50 1685.88H941.80M932.30 1742.53H949.50M877.20 1770.85H934.90M702.50 1855.83H847.00M941.60 1884.16H949.50M911.10 1912.48H930.10M929.80 1940.81H943.00M854.20 1969.13H932.90M913.00 1997.46H939.60M702.50 2025.78H860.10M930.30 2054.11H945.00M936.40 2110.76H949.50" stroke="#000" stroke-width="1.3" fill="none"/>
<circle cx="943.10" cy="14.66" r="4.2" fill="#000"/>
<circle cx="949.40" cy="42.99" r="4.2" fill="#000"/>
<circle cx="947.80" cy="71.31" r="4.2" fill="#000"/>
<circle cx="930.10" cy="99.64" r="4.2" fill="#000"/>
<circle cx="947.60" cy="127.97" r="4.2" fill="#000"/>
<circle cx="948.50" cy="156.29" r="4.2" fill="#000"/>
<circle cx="938.80" cy="184.62" r="4.2" fill="#000"/>
<circle cx="948.50" cy="212.94" r="4.2" fill="#000"/>
<circle cx="948.10" cy="241.27" r="4.2" fill="#000"/>
<circle cx="948.10" cy="269.59" r="4.2" fill="#000"/>
<circle cx="948.60" cy="297.92" r="4.2" fill="#000"/>
<circle cx="866.80" cy="326.24" r="3.75" fill="none" stroke="#000" stroke-width="2.35"/>
<circle cx="905.30" cy="354.57" r="3.75" fill="none" stroke="#000" stroke-width="2.35"/>
<circle cx="948.20" cy="382.90" r="4.2" fill="#000"/>
<circle cx="939.60" cy="411.22" r="4.2" fill="#000"/>
<circle cx="947.90" cy="439.55" r="4.2" fill="#000"/>
<circle cx="936.40" cy="467.87" r="4.2" fill="#000"/>
<circle cx="934.70" cy="496.20" r="4.2" fill="#000"/>
<circle cx="949.30" cy="524.52" r="4.2" fill="#000"/>
<circle cx="942.90" cy="552.85" r="4.2" fill="#000"/>
<circle cx="932.40" cy="581.18" r="4.2" fill="#000"/>
<circle cx="947.90" cy="609.50" r="4.2" fill="#000"/>
<circle cx="949.30" cy="637.83" r="4.2" fill="#000"/>
<circle cx="946.90" cy="666.15" r="4.2" fill="#000"/>
<circle cx="947.30" cy="694.48" r="4.2" fill="#000"/>
<circle cx="884.90" cy="722.80" r="3.75" fill="none" stroke="#000" stroke-width="2.35"/>
<circle cx="931.70" cy="751.13" r="4.2" fill="#000"/>
<circle cx="935.10" cy="779.46" r="4.2" fill="#000"/>
<circle cx="947.60" cy="807.78" r="4.2" fill="#000"/>
<circle cx="903.00" cy="836.11" r="3.75" fill="none" stroke="#000" stroke-width="2.35"/>
<circle cx="935.60" cy="864.43" r="4.2" fill="#000"/>
<circle cx="943.10" cy="892.76" r="4.2" fill="#000"/>
<circle cx="947.60" cy="921.08" r="4.2" fill="#000"/>
<circle cx="886.70" cy="949.41" r="3.75" fill="none" stroke="#000" stroke-width="2.35"/>
<circle cx="945.50" cy="977.73" r="4.2" fill="#000"/>
<circle cx="946.00" cy="1006.06" r="4.2" fill="#000"/>
<circle cx="932.10" cy="1034.39" r="4.2" fill="#000"/>
<circle cx="928.70" cy="1062.71" r="4.2" fill="#000"/>
<circle cx="886.10" cy="1091.04" r="3.75" fill="none" stroke="#000" stroke-width="2.35"/>
<circle cx="888.00" cy="1119.36" r="3.75" fill="none" stroke="#000" stroke-width="2.35"/>
<circle cx="938.70" cy="1147.69" r="4.2" fill="#000"/>
<circle cx="948.20" cy="1176.01" r="4.2" fill="#000"/>
<circle cx="945.70" cy="1204.34" r="4.2" fill="#000"/>
<circle cx="948.30" cy="1232.67" r="4.2" fill="#000"/>
<circle cx="949.30" cy="1260.99" r="4.2" fill="#000"/>
<circle cx="944.30" cy="1289.32" r="4.2" fill="#000"/>
<circle cx="944.50" cy="1317.64" r="4.2" fill="#000"/>
<circle cx="948.70" cy="1345.97" r="4.2" fill="#000"/>
<circle cx="949.10" cy="1374.29" r="4.2" fill="#000"/>
<circle cx="945.90" cy="1402.62" r="4.2" fill="#000"/>
<circle cx="940.60" cy="1430.94" r="4.2" fill="#000"/>
<circle cx="944.20" cy="1459.27" r="4.2" fill="#000"/>
<circle cx="942.50" cy="1487.60" r="4.2" fill="#000"/>
<circle cx="943.80" cy="1515.92" r="4.2" fill="#000"/>
<circle cx="940.80" cy="1544.25" r="4.2" fill="#000"/>
<circle cx="949.30" cy="1572.57" r="4.2" fill="#000"/>
<circle cx="949.20" cy="1600.90" r="4.2" fill="#000"/>
<circle cx="884.90" cy="1629.22" r="3.75" fill="none" stroke="#000" stroke-width="2.35"/>
<circle cx="931.70" cy="1657.55" r="4.2" fill="#000"/>
<circle cx="935.10" cy="1685.88" r="4.2" fill="#000"/>
<circle cx="947.60" cy="1714.20" r="4.2" fill="#000"/>
<circle cx="940.40" cy="1742.53" r="4.2" fill="#000"/>
<circle cx="910.80" cy="1770.85" r="4.2" fill="#000"/>
<circle cx="944.60" cy="1799.18" r="4.2" fill="#000"/>
<circle cx="947.60" cy="1827.50" r="4.2" fill="#000"/>
<circle cx="788.10" cy="1855.83" r="3.75" fill="none" stroke="#000" stroke-width="2.35"/>
<circle cx="941.60" cy="1884.16" r="4.2" fill="#000"/>
<circle cx="923.10" cy="1912.48" r="4.2" fill="#000"/>
<circle cx="938.70" cy="1940.81" r="4.2" fill="#000"/>
<circle cx="902.80" cy="1969.13" r="3.75" fill="none" stroke="#000" stroke-width="2.35"/>
<circle cx="931.10" cy="1997.46" r="4.2" fill="#000"/>
<circle cx="794.80" cy="2025.78" r="3.75" fill="none" stroke="#000" stroke-width="2.35"/>
<circle cx="939.20" cy="2054.11" r="4.2" fill="#000"/>
<circle cx="939.40" cy="2082.43" r="4.2" fill="#000"/>
<circle cx="943.80" cy="2110.76" r="4.2" fill="#000"/>
<circle cx="946.10" cy="2139.09" r="4.2" fill="#000"/>
<circle cx="937.80" cy="2167.41" r="4.2" fill="#000"/>
<circle cx="944.20" cy="2195.74" r="4.2" fill="#000"/>
<text class="ax" x="528" y="2234">ICC(2,1)</text>
<text class="ax" x="701.50" y="2234">0.7</text>
<text class="ax" x="784.13" y="2234">0.8</text>
<text class="ax" x="866.77" y="2234">0.9</text>
<text class="ax" x="949.40" y="2234">1</text>
<text x="825.6" y="2263.8" style="font-size:22.5px;font-style:italic;fill:#000;stroke:#000;stroke-width:0.35;text-anchor:middle;font-family:'Liberation Serif',serif">&#961;</text>
</svg></body></html>
